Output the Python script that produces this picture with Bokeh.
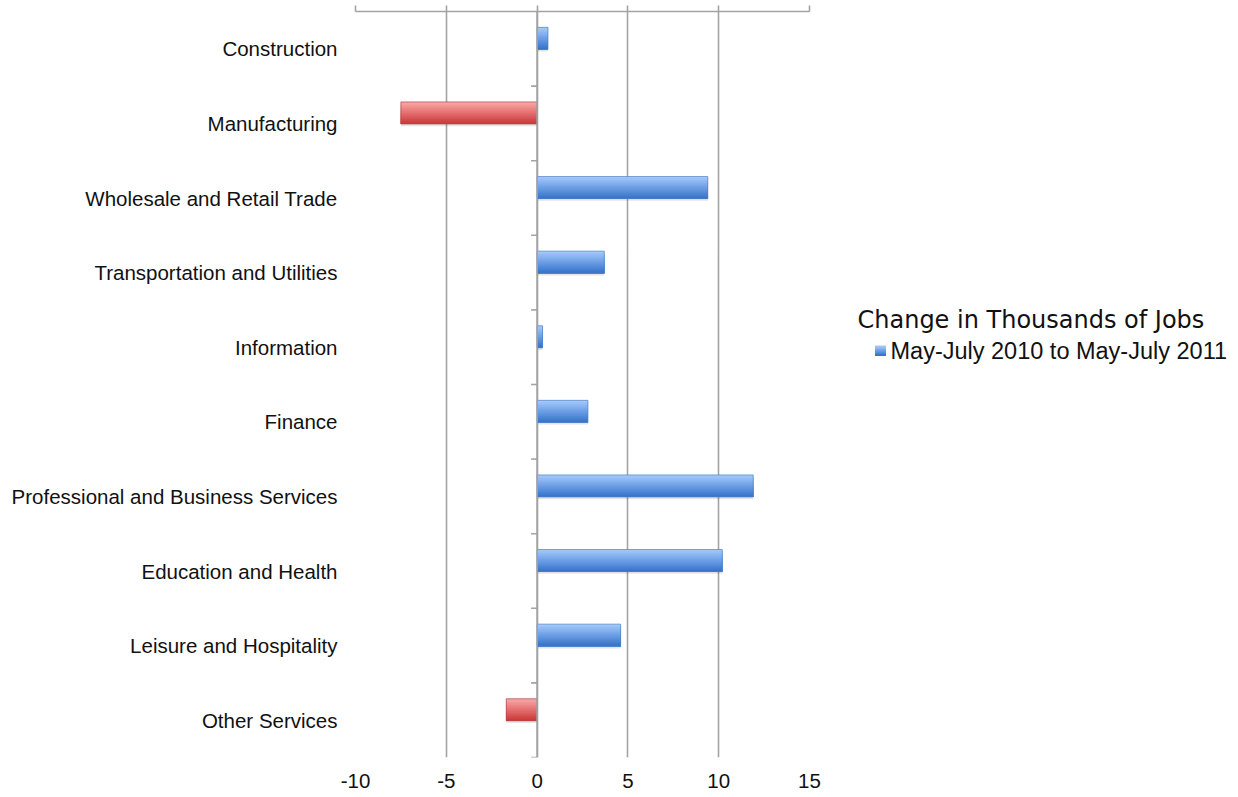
from bokeh.plotting import figure
from bokeh.models import FactorRange, Range1d, Span, ColumnDataSource, LinearAxis, FixedTicker
from bokeh.layouts import row
from bokeh.transform import dodge
from bokeh.embed import file_html
from bokeh.resources import INLINE
from bokeh.core.properties import value

categories = ["Construction", "Manufacturing", "Wholesale and Retail Trade",
              "Transportation and Utilities", "Information", "Finance",
              "Professional and Business Services", "Education and Health",
              "Leisure and Hospitality", "Other Services"]
change = [0.6, -7.5, 9.4, 3.7, 0.3, 2.8, 11.9, 10.2, 4.6, -1.7]
x_ticks = [-10, -5, 0, 5, 10, 15]
x_tick_labels = ["-10", "-5", "0", "5", "10", "15"]
legend_title = "Change in Thousands of Jobs"
series_name = "May-July 2010 to May-July 2011"

H = 797
W1 = 830
W2 = 400
FL, FT, FW, FH = 355, 11, 454, 746   # frame left/top/width/height (page px)
p = figure(frame_width=FW, frame_height=FH, output_backend="svg", toolbar_location=None,
           y_range=FactorRange(*list(reversed(categories))),
           x_range=Range1d(-10, 15),
           x_axis_location=None, min_border_left=FL, min_border_right=W1 - FL - FW,
           min_border_top=FT, min_border_bottom=0)
p.outline_line_color = None
p.background_fill_color = "white"
p.border_fill_color = "white"

GRID = "#a3a3a3"
p.xgrid.ticker = FixedTicker(ticks=x_ticks)
p.xgrid.grid_line_color = GRID
p.xgrid.grid_line_width = 1.6
p.ygrid.grid_line_color = None

# top axis (line + upward ticks, no labels)
top = LinearAxis(ticker=FixedTicker(ticks=x_ticks))
top.axis_line_color = GRID
top.axis_line_width = 1.6
top.major_tick_line_color = GRID
top.major_tick_line_width = 1.6
top.major_tick_out = 6
top.major_tick_in = 0
top.minor_tick_line_color = None
top.major_label_text_font_size = "0px"
top.major_label_text_color = None
p.add_layout(top, "above")

# bottom axis (labels only)
bot = LinearAxis(ticker=FixedTicker(ticks=x_ticks))
bot.axis_line_color = None
bot.major_tick_line_color = None
bot.minor_tick_line_color = None
bot.major_tick_out = 0
bot.major_tick_in = 0
bot.major_label_overrides = {t: l for t, l in zip(x_ticks, x_tick_labels)}
bot.major_label_text_font = "Liberation Sans"
bot.major_label_text_font_size = "20.5px"
bot.major_label_text_color = "#111111"
bot.major_label_standoff = 16
p.add_layout(bot, "below")

# left axis labels
ya = p.yaxis[0]
ya.axis_line_color = None
ya.major_tick_line_color = None
ya.minor_tick_line_color = None
ya.major_label_text_font = "Liberation Sans"
ya.major_label_text_font_size = "20.5px"
ya.major_label_text_color = "#111111"
ya.major_label_standoff = 12

src = ColumnDataSource(dict(cat=categories, val=change,
                            zero=[0] * len(categories),
                            tick0=[-0.33] * len(categories)))

# zero axis line and category boundary ticks
p.add_layout(Span(location=0, dimension="height", line_color=GRID, line_width=1.6))
p.segment(x0="tick0", x1="zero", y0=dodge("cat", -0.5, range=p.y_range),
          y1=dodge("cat", -0.5, range=p.y_range), source=src,
          line_color=GRID, line_width=1.6)

# bars with simulated vertical gradient
bar_h = 0.295
center = 0.14
N = 14

def lerp(c1, c2, t):
    a = [int(c1[i:i + 2], 16) for i in (1, 3, 5)]
    b = [int(c2[i:i + 2], 16) for i in (1, 3, 5)]
    return "#%02x%02x%02x" % tuple(int(round(a[k] + (b[k] - a[k]) * t)) for k in range(3))

pos = [v >= 0 for v in change]
srcs = {
    True: ColumnDataSource(dict(cat=[c for c, g in zip(categories, pos) if g],
                                val=[v for v, g in zip(change, pos) if g])),
    False: ColumnDataSource(dict(cat=[c for c, g in zip(categories, pos) if not g],
                                 val=[v for v, g in zip(change, pos) if not g])),
}
palettes = {True: ("#a2c8fb", "#3874cc", "#4d7fc2"),
            False: ("#fba4a4", "#cc3a3a", "#a84848")}

bottom_edge = center - bar_h / 2
for g in (True, False):
    top_c, bot_c, edge = palettes[g]
    s = srcs[g]
    p.hbar(y=dodge("cat", center - 0.03, range=p.y_range), left=0, right="val",
           height=bar_h, source=s, fill_color="#000000", fill_alpha=0.10,
           line_color=None)
    for i in range(N):
        t = i / (N - 1)
        hgt = bar_h * (N - i) / N
        p.hbar(y=dodge("cat", bottom_edge + hgt / 2, range=p.y_range), left=0,
               right="val", height=hgt, source=s,
               fill_color=lerp(top_c, bot_c, t), line_color=None)
    p.hbar(y=dodge("cat", center, range=p.y_range), left=0, right="val",
           height=bar_h, source=s, fill_color=None, line_color=edge,
           line_width=1, line_alpha=0.7)

# legend panel: a second figure whose data units equal its pixels (y downward)
q = figure(width=W2, height=H, output_backend="svg", toolbar_location=None,
           x_range=Range1d(0, W2), y_range=Range1d(H, 0),
           x_axis_location=None, y_axis_location=None,
           min_border_left=0, min_border_right=0, min_border_top=0, min_border_bottom=0)
q.outline_line_color = None
q.grid.grid_line_color = None
q.background_fill_color = "white"
q.border_fill_color = "white"

OX = W1  # page x of the legend panel's left edge
ITEM_Y = 359
q.text(x=[857 - OX], y=[326], text=[legend_title], text_font=value("DejaVu Sans"),
       text_font_size="24px", text_color="#111111", text_baseline="middle")
SQ = 11
sq_bottom = ITEM_Y + SQ / 2
for i in range(6):
    t = i / 5
    hh = SQ * (6 - i) / 6
    q.rect(x=[880 - OX], y=[sq_bottom - hh / 2], width=SQ, height=hh,
           fill_color=lerp("#a2c8fb", "#3874cc", t), line_color=None)
q.text(x=[890 - OX], y=[ITEM_Y], text=[series_name], text_font=value("Liberation Sans"),
       text_font_size="23.5px", text_color="#111111", text_baseline="middle")

layout = row(p, q)
open("out.html", "w").write(file_html(layout, INLINE))
